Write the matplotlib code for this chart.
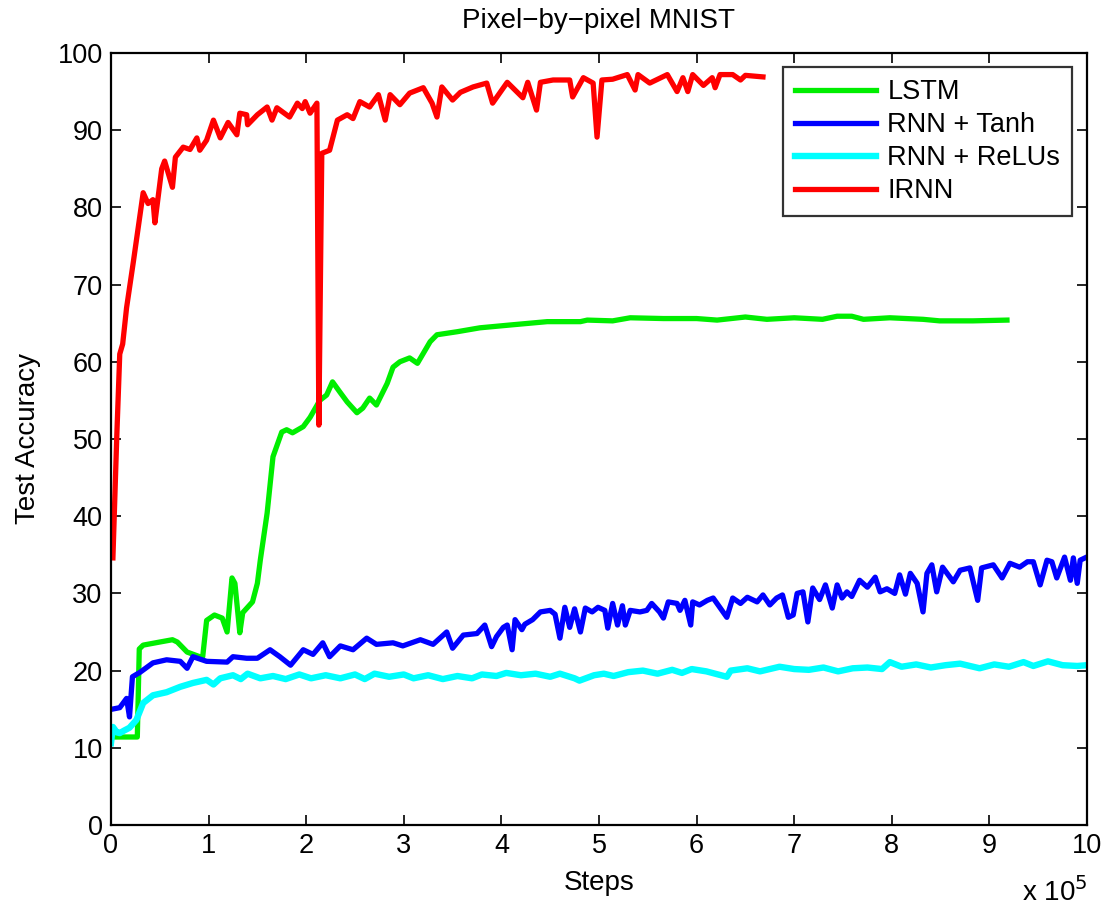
import matplotlib
matplotlib.use("Agg")
import matplotlib.pyplot as plt

plt.rcParams['font.family'] = ['Liberation Sans', 'DejaVu Sans']

# Training steps are in units of 1e5
irnn_steps = [0.02, 0.06, 0.09, 0.12, 0.16, 0.23, 0.33, 0.38, 0.43, 0.45, 0.52, 0.55,
              0.63, 0.66, 0.74, 0.81, 0.88, 0.91, 0.98, 1.05, 1.12, 1.20, 1.29, 1.32,
              1.39, 1.40, 1.50, 1.60, 1.65, 1.70, 1.83, 1.91, 1.96, 1.99, 2.04, 2.11,
              2.13, 2.16, 2.24, 2.32, 2.42, 2.48, 2.55, 2.65, 2.74, 2.81, 2.86, 2.96,
              3.06, 3.20, 3.29, 3.34, 3.39, 3.50, 3.58, 3.71, 3.85, 3.91, 4.06, 4.22,
              4.27, 4.36, 4.40, 4.53, 4.70, 4.73, 4.84, 4.94, 4.98, 5.03, 5.14, 5.29,
              5.37, 5.40, 5.52, 5.70, 5.80, 5.86, 5.91, 5.96, 6.07, 6.16, 6.19, 6.24,
              6.37, 6.45, 6.50, 6.68]
irnn_acc = [34.6, 50.5, 61.0, 62.3, 67.0, 73.0, 81.9, 80.5, 81.0, 78.0, 85.0, 86.0,
            82.6, 86.5, 87.8, 87.5, 89.0, 87.4, 88.7, 91.3, 89.0, 91.0, 89.4, 92.2,
            92.0, 90.7, 92.0, 93.0, 91.3, 92.9, 91.7, 93.5, 92.8, 93.7, 92.2, 93.5,
            51.8, 87.0, 87.4, 91.3, 92.0, 91.5, 93.7, 93.0, 94.6, 91.3, 94.6, 93.3,
            94.8, 95.5, 93.5, 91.7, 95.6, 93.9, 94.9, 95.6, 96.1, 93.5, 96.2, 94.2,
            96.2, 92.6, 96.2, 96.5, 96.5, 94.3, 96.8, 96.1, 89.1, 96.5, 96.6, 97.2,
            95.2, 97.2, 96.1, 97.2, 95.0, 96.8, 95.0, 97.2, 95.8, 96.8, 95.5, 97.2,
            97.2, 96.5, 97.1, 96.9]

lstm_steps = [0.02, 0.27, 0.29, 0.33, 0.50, 0.63, 0.68, 0.78, 0.91, 0.94, 0.98, 1.06,
              1.14, 1.19, 1.24, 1.27, 1.32, 1.35, 1.45, 1.50, 1.53, 1.60, 1.66, 1.75,
              1.80, 1.86, 1.97, 2.04, 2.14, 2.21, 2.27, 2.35, 2.42, 2.52, 2.58, 2.65,
              2.72, 2.83, 2.89, 2.96, 3.06, 3.14, 3.27, 3.34, 3.55, 3.78, 4.12, 4.47,
              4.81, 4.88, 5.14, 5.32, 5.66, 6.00, 6.21, 6.50, 6.72, 7.00, 7.29, 7.44,
              7.59, 7.71, 7.98, 8.32, 8.49, 8.83, 9.18]
lstm_acc = [11.4, 11.4, 22.8, 23.3, 23.7, 24.0, 23.7, 22.4, 21.8, 21.8, 26.5, 27.2,
            26.8, 25.0, 32.0, 31.3, 24.9, 27.5, 28.9, 31.3, 34.3, 40.4, 47.7, 50.9,
            51.2, 50.8, 51.6, 52.8, 55.0, 55.7, 57.4, 56.0, 54.8, 53.4, 54.0, 55.3,
            54.4, 57.2, 59.3, 60.0, 60.5, 59.8, 62.6, 63.5, 63.9, 64.4, 64.8, 65.2,
            65.2, 65.4, 65.3, 65.7, 65.6, 65.6, 65.4, 65.8, 65.5, 65.7, 65.5, 65.9,
            65.9, 65.5, 65.7, 65.5, 65.3, 65.3, 65.4]

tanh_steps = [0.01, 0.09, 0.16, 0.19, 0.22, 0.30, 0.43, 0.57, 0.71, 0.78, 0.84, 0.98,
              1.19, 1.25, 1.39, 1.50, 1.63, 1.73, 1.84, 1.97, 2.07, 2.17, 2.24, 2.35,
              2.48, 2.62, 2.72, 2.89, 2.99, 3.17, 3.30, 3.44, 3.50, 3.61, 3.75, 3.83,
              3.90, 3.95, 4.02, 4.06, 4.11, 4.14, 4.21, 4.24, 4.32, 4.40, 4.50, 4.55,
              4.60, 4.65, 4.70, 4.75, 4.81, 4.86, 4.93, 4.99, 5.06, 5.09, 5.14, 5.19,
              5.24, 5.27, 5.32, 5.42, 5.49, 5.54, 5.62, 5.66, 5.71, 5.80, 5.83, 5.88,
              5.94, 5.96, 6.03, 6.11, 6.17, 6.22, 6.31, 6.37, 6.45, 6.52, 6.62, 6.68,
              6.75, 6.82, 6.88, 6.94, 6.99, 7.03, 7.09, 7.14, 7.19, 7.26, 7.32, 7.39,
              7.44, 7.49, 7.54, 7.59, 7.67, 7.75, 7.83, 7.88, 7.95, 8.03, 8.08, 8.14,
              8.19, 8.26, 8.32, 8.36, 8.41, 8.46, 8.52, 8.63, 8.70, 8.80, 8.88, 8.92,
              9.04, 9.13, 9.21, 9.31, 9.39, 9.45, 9.52, 9.59, 9.64, 9.69, 9.77, 9.83,
              9.86, 9.90, 9.93, 9.98]
tanh_acc = [15.0, 15.2, 16.4, 14.0, 19.2, 19.8, 21.0, 21.4, 21.2, 20.3, 21.8, 21.2,
            21.1, 21.8, 21.6, 21.6, 22.7, 21.8, 20.7, 22.7, 22.1, 23.6, 21.8, 23.2,
            22.7, 24.2, 23.4, 23.6, 23.2, 24.0, 23.4, 25.0, 22.9, 24.6, 24.8, 25.9,
            23.1, 24.4, 25.6, 25.9, 22.7, 26.6, 25.3, 26.0, 26.6, 27.6, 27.8, 27.3,
            24.2, 28.2, 25.6, 28.0, 25.0, 28.1, 27.6, 28.2, 27.8, 25.5, 28.7, 25.9,
            28.4, 25.9, 27.8, 27.6, 27.8, 28.7, 27.6, 26.8, 28.9, 28.7, 27.8, 29.1,
            25.9, 28.9, 28.5, 29.1, 29.4, 28.5, 26.9, 29.4, 28.7, 29.5, 28.9, 29.8,
            28.5, 29.4, 29.8, 26.9, 27.2, 30.0, 30.2, 26.3, 30.7, 29.2, 31.1, 28.1,
            31.1, 29.4, 30.2, 29.6, 31.7, 30.8, 32.1, 30.2, 30.6, 30.0, 32.4, 29.9,
            32.6, 31.3, 27.6, 32.6, 33.7, 30.2, 33.4, 31.5, 33.0, 33.3, 29.1, 33.3,
            33.7, 32.0, 33.9, 33.4, 34.1, 34.1, 31.1, 34.3, 34.1, 32.0, 34.7, 31.7,
            34.6, 31.3, 34.3, 34.6]

relu_steps = [0.00, 0.02, 0.06, 0.09, 0.13, 0.19, 0.26, 0.33, 0.43, 0.57, 0.71, 0.84,
              0.98, 1.05, 1.12, 1.25, 1.33, 1.40, 1.53, 1.66, 1.79, 1.93, 2.05, 2.20,
              2.35, 2.50, 2.60, 2.70, 2.85, 3.00, 3.10, 3.25, 3.40, 3.55, 3.70, 3.80,
              3.95, 4.05, 4.20, 4.35, 4.50, 4.60, 4.75, 4.80, 4.95, 5.05, 5.15, 5.30,
              5.45, 5.60, 5.75, 5.85, 5.95, 6.10, 6.31, 6.35, 6.52, 6.65, 6.85, 7.00,
              7.15, 7.30, 7.45, 7.60, 7.75, 7.90, 7.98, 8.10, 8.25, 8.40, 8.55, 8.70,
              8.90, 9.05, 9.20, 9.35, 9.45, 9.60, 9.75, 9.90, 10.00]
relu_acc = [10.6, 12.7, 12.0, 11.9, 12.2, 12.6, 13.6, 15.8, 16.8, 17.2, 17.9, 18.4,
            18.8, 18.2, 19.0, 19.4, 18.9, 19.6, 19.0, 19.3, 18.9, 19.5, 19.0, 19.4,
            19.0, 19.5, 18.9, 19.6, 19.2, 19.5, 19.0, 19.4, 18.9, 19.3, 19.0, 19.5,
            19.3, 19.7, 19.4, 19.6, 19.2, 19.6, 19.0, 18.7, 19.4, 19.6, 19.3, 19.8,
            20.0, 19.6, 20.1, 19.7, 20.2, 19.9, 19.2, 20.0, 20.3, 19.9, 20.5, 20.2,
            20.1, 20.4, 19.9, 20.3, 20.4, 20.2, 21.1, 20.5, 20.8, 20.4, 20.7, 20.9,
            20.3, 20.8, 20.5, 21.1, 20.6, 21.2, 20.7, 20.6, 20.7]

series = [
    ("LSTM", lstm_steps, lstm_acc, "#00ee00", 3.8),
    ("RNN + Tanh", tanh_steps, tanh_acc, "#0000ff", 3.8),
    ("RNN + ReLUs", relu_steps, relu_acc, "#00ffff", 4.6),
    ("IRNN", irnn_steps, irnn_acc, "#ff0000", 3.8),
]

x_ticks = list(range(0, 11))
y_ticks = list(range(0, 101, 10))

fig = plt.figure(figsize=(11.03, 9.07), dpi=100)
ax = fig.add_axes([0.1006, 0.0904, 0.8849, 0.8512])

for label, xs, ys, color, lw in series:
    ax.plot(xs, ys, color=color, lw=lw, label=label, solid_joinstyle="round")

ax.set_xlim(0, 10)
ax.set_ylim(0, 100)
ax.set_xticks(x_ticks)
ax.set_yticks(y_ticks)
ax.tick_params(direction="in", length=7, width=1.2, top=True, right=True,
               labelsize=19.5, pad=6)
for sp in ax.spines.values():
    sp.set_linewidth(1.6)

ax.set_title("Pixel\u2212by\u2212pixel MNIST", fontsize=20, pad=18)
ax.set_xlabel("Steps", fontsize=20, labelpad=8)
ax.set_ylabel("Test Accuracy", fontsize=20, labelpad=12)
ax.text(1.0, -0.068, r"x 10$^{5}$", transform=ax.transAxes, ha="right", va="top",
        fontsize=20)

leg = ax.legend(loc="upper right", bbox_to_anchor=(0.985, 0.982), fontsize=19.5,
                frameon=True, fancybox=False, handlelength=3.0, handletextpad=0.4,
                borderpad=0.45, labelspacing=0.26, borderaxespad=0.0)
leg.get_frame().set_edgecolor("black")
leg.get_frame().set_linewidth(1.6)

fig.savefig("out.png", dpi=100)
